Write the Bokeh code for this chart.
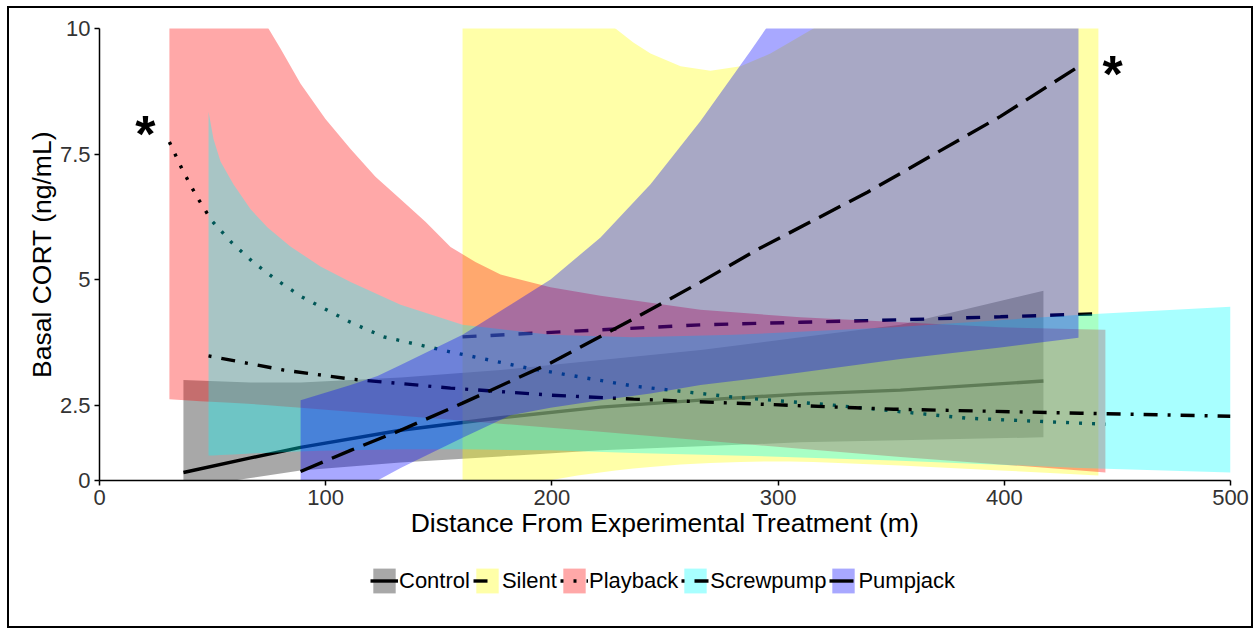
from bokeh.plotting import figure
from bokeh.layouts import column
from bokeh.models import ColumnDataSource, Legend, LegendItem, FixedTicker, Range1d
from bokeh.core.properties import value
from bokeh.embed import file_html
from bokeh.resources import INLINE

# ---- data (x in m, y in plotted axis units) ----
# Control
ctrl_band_x = [37.1, 66.8, 88.9, 133.1, 177.3, 221.5, 265.7, 309.9, 354.1, 417.3]
ctrl_lo = [0.85, 1.05, 1.2, 1.36, 1.48, 1.6, 1.68, 1.76, 1.8, 1.86]
ctrl_hi = [3.0, 2.95, 2.95, 3.05, 3.2, 3.4, 3.6, 3.85, 4.1, 4.78]
ctrl_line_x = [37.1, 66.8, 88.9, 133.1, 177.3, 221.5, 265.7, 309.9, 354.1, 417.3]
ctrl_fit = [1.16, 1.45, 1.66, 2.0, 2.25, 2.46, 2.6, 2.72, 2.8, 2.98]

# Silent
sil_band_x = [160.5, 186.1, 211.3, 228.1, 236.0, 243.6, 256.9, 270.1, 283.4, 296.6,
              305.0, 315.6, 354.1, 398.3, 441.6]
sil_lo = [0.6, 0.9, 1.1, 1.2, 1.24, 1.27, 1.32, 1.35, 1.37, 1.38,
          1.38, 1.37, 1.3, 1.2, 1.1]
sil_hi = [14.0, 12.0, 10.6, 10.0, 9.72, 9.5, 9.25, 9.16, 9.25, 9.5,
          9.72, 10.0, 11.3, 13.0, 15.0]
sil_line_x = [160.5, 221.5, 265.7, 309.9, 354.1, 398.3, 441.6]
sil_fit = [3.86, 4.0, 4.1, 4.15, 4.2, 4.26, 4.32]

# Playback
pb_band_x = [30.9, 44.6, 57.9, 74.7, 80.0, 88.9, 99.9, 111.0, 122.0, 133.1, 144.1,
             155.2, 166.2, 177.3, 199.4, 221.5, 265.7, 309.9, 354.1, 398.3, 444.7]
pb_lo = [2.62, 2.58, 2.55, 2.5, 2.48, 2.45, 2.41, 2.37, 2.33, 2.29, 2.25,
         2.21, 2.17, 2.13, 2.05, 1.97, 1.8, 1.63, 1.47, 1.32, 1.16]
pb_hi = [16.0, 13.5, 11.8, 10.0, 9.6, 8.9, 8.2, 7.6, 7.05, 6.6, 6.15,
         5.65, 5.35, 5.1, 4.85, 4.68, 4.4, 4.25, 4.15, 4.05, 4.0]
pb_line_x = [30.9, 36.7, 42.9, 49.5, 58.4, 68.1, 78.7, 89.3, 111.0, 125.6, 155.2,
             189.2, 236.1, 280.3, 324.5, 383.7, 444.7]
pb_fit = [7.74, 7.18, 6.66, 6.18, 5.74, 5.34, 4.98, 4.66, 4.15, 3.86, 3.56,
          3.24, 2.88, 2.66, 2.5, 2.24, 2.12]

# Screwpump
sp_band_x = [48.2, 50.4, 53.5, 59.2, 66.8, 74.3, 84.4, 97.7, 111.0, 133.1, 160.5,
             199.4, 236.1, 280.3, 351.0, 433.7, 500.0]
sp_lo = [1.5, 1.5, 1.51, 1.52, 1.54, 1.55, 1.57, 1.59, 1.6, 1.62, 1.62,
         1.6, 1.55, 1.5, 1.4, 1.25, 1.16]
sp_hi = [8.34, 7.8, 7.35, 6.9, 6.4, 6.04, 5.66, 5.26, 4.95, 4.5, 4.1,
         3.9, 3.85, 3.9, 4.05, 4.3, 4.46]
sp_line_x = [48.2, 81.3, 111.0, 155.2, 199.4, 236.1, 280.3, 351.0, 433.7, 500.0]
sp_fit = [3.48, 3.2, 3.02, 2.84, 2.7, 2.62, 2.54, 2.42, 2.34, 2.28]

# Pumpjack
pj_band_x = [88.9, 111.0, 122.9, 133.1, 160.5, 181.7, 199.4, 221.5, 243.6, 265.7,
             287.8, 309.9, 354.1, 398.3, 432.8]
pj_lo = [0.3, 0.75, 1.0, 1.25, 1.85, 2.3, 2.45, 2.6, 2.73, 2.9,
         3.02, 3.15, 3.42, 3.65, 3.84]
pj_hi = [2.6, 2.9, 3.08, 3.3, 3.9, 4.5, 5.0, 5.84, 6.9, 8.16,
         9.55, 11.0, 13.5, 16.5, 19.0]
pj_line_x = [88.9, 111.0, 133.1, 160.5, 199.4, 237.8, 265.7, 290.9, 339.5, 398.3, 432.8]
pj_fit = [1.18, 1.6, 2.0, 2.54, 3.34, 4.26, 4.95, 5.6, 6.74, 8.25, 9.24]

labels = ["Control", "Silent", "Playback", "Screwpump", "Pumpjack"]
fills = ["black", "yellow", "red", "cyan", "blue"]
dashes = ["solid", "14 14", "3 10", "3 10 14 10", "24 10"]

x_ticks = [0, 100, 200, 300, 400, 500]
y_ticks = [1, 2.5, 5, 7.5, 10]
y_tick_labels = ["0", "2.5", "5", "7.5", "10"]

groups = [
    (ctrl_band_x, ctrl_lo, ctrl_hi, ctrl_line_x, ctrl_fit),
    (sil_band_x, sil_lo, sil_hi, sil_line_x, sil_fit),
    (pb_band_x, pb_lo, pb_hi, pb_line_x, pb_fit),
    (sp_band_x, sp_lo, sp_hi, sp_line_x, sp_fit),
    (pj_band_x, pj_lo, pj_hi, pj_line_x, pj_fit),
]

FONT = "Liberation Sans"
ALPHA = 0.34
LW = 3.4

p = figure(width=1242, height=548, x_range=(0, 500), y_range=(1, 10),
           output_backend="svg", toolbar_location=None,
           min_border_left=90, min_border_right=21, min_border_top=20,
           min_border_bottom=76)
p.xgrid.visible = False
p.ygrid.visible = False
p.outline_line_color = None

# legend strip (its own figure, same sources, view range outside the data)
q = figure(width=1242, height=70, output_backend="svg", toolbar_location=None,
           x_axis_type=None, y_axis_type=None, min_border=0,
           x_range=Range1d(-20, -10), y_range=Range1d(-20, -10))
q.grid.visible = False
q.outline_line_color = None

items = []
for (bx, lo, hi, lx, fit), lab, fc, dash in zip(groups, labels, fills, dashes):
    band = ColumnDataSource(dict(x=bx, lo=lo, hi=hi))
    line = ColumnDataSource(dict(x=lx, y=fit))
    p.varea(x="x", y1="lo", y2="hi", source=band, fill_color=fc, fill_alpha=ALPHA)
    p.line(x="x", y="y", source=line, line_color="black", line_width=LW, line_dash=dash)
    a = q.varea(x="x", y1="lo", y2="hi", source=band, fill_color=fc, fill_alpha=ALPHA)
    l = q.line(x="x", y="y", source=line, line_color="black", line_width=LW, line_dash=dash)
    items.append(LegendItem(label=lab, renderers=[a, l]))

# significance asterisks next to Playback start and Pumpjack end
star_src = ColumnDataSource(dict(x=[pb_line_x[0], pj_line_x[-1]],
                                 y=[pb_fit[0], pj_fit[-1]],
                                 dx=[-24, 34], dy=[-8, 7], t=["*", "*"]))
p.text(x="x", y="y", text="t", x_offset="dx", y_offset="dy", source=star_src,
       text_font=value(FONT), text_font_size="52px", text_font_style="bold",
       text_align="center", text_baseline="alphabetic", text_color="black")

for ax in (p.xaxis[0], p.yaxis[0]):
    ax.axis_line_color = "black"
    ax.axis_line_width = 1.5
    ax.major_tick_line_color = "black"
    ax.major_tick_line_width = 1.5
    ax.major_tick_out = 5
    ax.major_tick_in = 0
    ax.minor_tick_line_color = None
    ax.major_label_text_font = FONT
    ax.major_label_text_font_size = "22px"
    ax.major_label_text_color = "#333333"
    ax.axis_label_text_font = FONT
    ax.axis_label_text_font_size = "26.5px"
    ax.axis_label_text_font_style = "normal"
    ax.axis_label_text_color = "black"

p.xaxis[0].ticker = FixedTicker(ticks=x_ticks)
p.yaxis[0].ticker = FixedTicker(ticks=y_ticks)
p.yaxis[0].major_label_overrides = {t: s for t, s in zip(y_ticks, y_tick_labels)}
p.xaxis[0].axis_label = "Distance From Experimental Treatment (m)"
p.yaxis[0].axis_label = "Basal CORT (ng/mL)"
p.xaxis[0].major_label_standoff = 4
p.yaxis[0].major_label_standoff = 4
p.xaxis[0].axis_label_standoff = 0
p.yaxis[0].axis_label_standoff = 0

legend = Legend(items=items, orientation="horizontal", location=(271, 30),
                glyph_width=28, glyph_height=31, label_standoff=1, spacing=3,
                padding=0, margin=0, border_line_color=None,
                background_fill_alpha=0, label_text_font=FONT,
                label_text_font_size="22px", label_text_color="black")
q.add_layout(legend, "center")

layout = column(p, q, spacing=0, margin=(6, 0, 0, 7),
                styles={"border": "2px solid black"})

open("out.html", "w").write(file_html(layout, INLINE))
